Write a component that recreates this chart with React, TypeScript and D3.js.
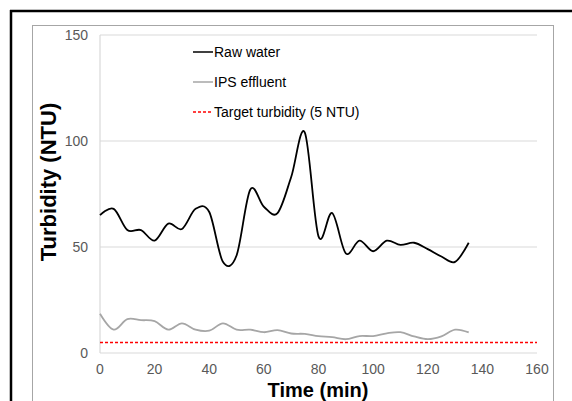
import React from "react";
import * as d3 from "d3";

const times = [0,5,10,15,20,25,30,35,40,45,50,55,60,65,70,75,80,85,90,95,100,105,110,115,120,125,130,135];
const rawWater = [65,68,58,58,53,61,58.5,68,66.5,43,46,77,69,66,83,104,55,66,47,53,48,53,51,52,49,45.5,43,52];
const ipsEffluent = [18.5,11,16,15.5,15,11,14,11,10.5,14,11,11,9.8,10.8,9.2,9,8,7.5,6.5,8,8,9.3,9.8,7.8,6.5,7.8,11,9.7];
const targetTimes = [0,160];
const targetValue = 5;
const xTicks = [0,20,40,60,80,100,120,140,160];
const yTicks = [0,50,100,150];
const legendLabels = ["Raw water","IPS effluent","Target turbidity (5 NTU)"];

export default function App() {
  const W = 572, H = 401;
  const x = d3.scaleLinear().domain([0,160]).range([100,537]);
  const y = d3.scaleLinear().domain([0,150]).range([353,35]);
  const line = d3.line<[number,number]>().x(d => x(d[0])).y(d => y(d[1])).curve(d3.curveCardinal.tension(0));
  const rawPts = times.map((t,i)=>[t,rawWater[i]] as [number,number]);
  const ipsPts = times.map((t,i)=>[t,ipsEffluent[i]] as [number,number]);
  const font = "'Liberation Sans', Arial, sans-serif";
  const tickColor = "#595959";
  const legendX = 193, legendY0 = 52, legendDy = 30;
  const legendStyles = [
    {stroke:"#000", dash:undefined as string|undefined, w:1.5},
    {stroke:"#a6a6a6", dash:undefined as string|undefined, w:1.5},
    {stroke:"#ff0000", dash:"3,2", w:1.5},
  ];
  return (
    <svg width={W} height={H} style={{position:"absolute", left:0, top:0, background:"#fff"}} fontFamily={font}>
      <rect x={0} y={0} width={W} height={H} fill="#fff" />
      {/* outer black frame */}
      <line x1={10} x2={W} y1={11} y2={11} stroke="#000" strokeWidth={2.5} />
      <line x1={11} x2={11} y1={10} y2={H} stroke="#000" strokeWidth={2.5} />
      {/* chart area border */}
      <rect x={32.5} y={25.5} width={521} height={420} fill="none" stroke="#a6a6a6" strokeWidth={1} />
      {/* gridlines */}
      {yTicks.map(v => (
        <line key={"g"+v} x1={x(0)} x2={x(160)} y1={y(v)} y2={y(v)} stroke="#d9d9d9" strokeWidth={1.2} />
      ))}
      <line x1={x(0)} x2={x(0)} y1={y(150)} y2={y(0)} stroke="#d9d9d9" strokeWidth={1.2} />
      {/* y tick labels */}
      {yTicks.map(v => (
        <text key={"yt"+v} x={88} y={y(v)} dy="0.35em" textAnchor="end" fontSize={14} fill={tickColor}>{v}</text>
      ))}
      {xTicks.map(v => (
        <text key={"xt"+v} x={x(v)} y={374} textAnchor="middle" fontSize={14} fill={tickColor}>{v}</text>
      ))}
      {/* target line */}
      <line x1={x(targetTimes[0])} x2={x(targetTimes[1])} y1={y(targetValue)} y2={y(targetValue)} stroke="#ff0000" strokeWidth={1.5} strokeDasharray="3,2" />
      {/* series */}
      <path d={line(ipsPts) || ""} fill="none" stroke="#a6a6a6" strokeWidth={1.8} />
      <path d={line(rawPts) || ""} fill="none" stroke="#000" strokeWidth={1.8} />
      {/* legend */}
      {legendLabels.map((lab,i) => (
        <g key={lab} transform={`translate(${legendX},${legendY0 + i*legendDy})`}>
          <line x1={0} x2={20} y1={0} y2={0} stroke={legendStyles[i].stroke} strokeWidth={legendStyles[i].w} strokeDasharray={legendStyles[i].dash} />
          <text x={21} y={0} dy="0.35em" fontSize={14} fill="#000">{lab}</text>
        </g>
      ))}
      {/* axis titles */}
      <text x={318} y={397} textAnchor="middle" fontSize={20} fontWeight="bold" fill="#000">Time (min)</text>
      <text transform={`translate(56,182) rotate(-90)`} textAnchor="middle" fontSize={22} fontWeight="bold" fill="#000">Turbidity (NTU)</text>
    </svg>
  );
}
